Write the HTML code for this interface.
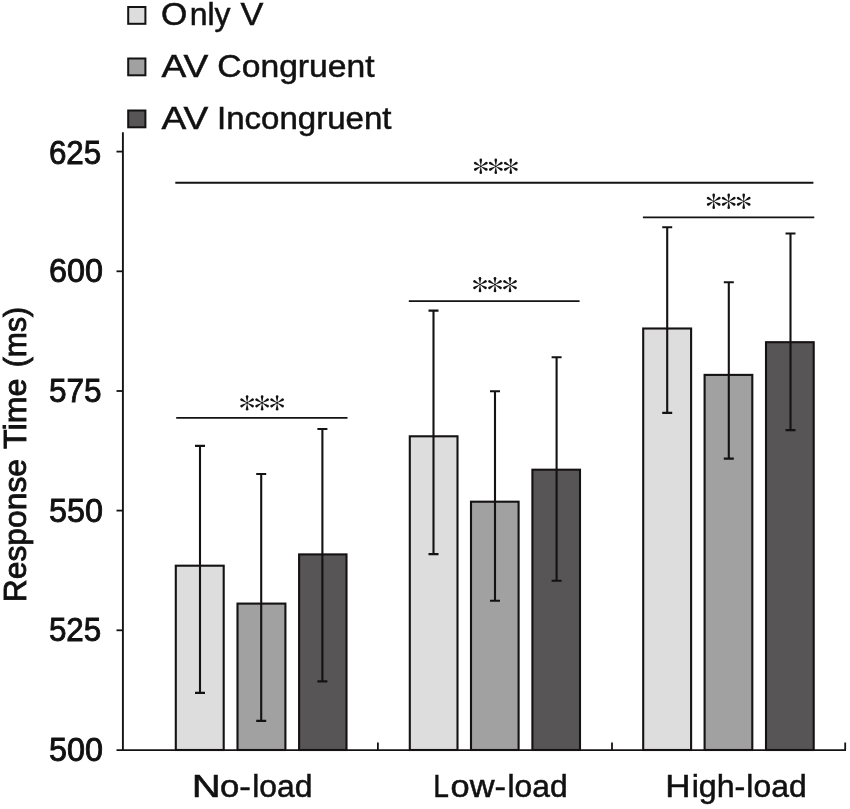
<!DOCTYPE html>
<html><head><meta charset="utf-8"><title>Response Time</title>
<style>html,body{margin:0;padding:0;background:#fff}svg{display:block;will-change:transform}text{font-family:"Liberation Sans",sans-serif;font-size:31px;fill:#111;stroke:#111;stroke-width:0.5px}</style></head>
<body>
<svg width="850" height="809" viewBox="0 0 850 809">
<rect width="850" height="809" fill="#fff"/>
<defs><path id="arm" d="M-0.3 -1.2L-1.3 -6.4A1.3 1.3 0 0 1 1.3 -6.4L0.3 -1.2Z"/><g id="ast" fill="#141213"><circle r="1.15"/><use href="#arm"/><use href="#arm" transform="rotate(60)"/><use href="#arm" transform="rotate(120)"/><use href="#arm" transform="rotate(180)"/><use href="#arm" transform="rotate(240)"/><use href="#arm" transform="rotate(300)"/></g></defs>
<rect x="128.2" y="7.0" width="17.2" height="16.8" fill="#dddddd" stroke="#141213" stroke-width="2"/>
<rect x="128.2" y="58.5" width="17.2" height="16.8" fill="#a1a1a1" stroke="#141213" stroke-width="2"/>
<rect x="128.2" y="110.5" width="17.2" height="16.8" fill="#585556" stroke="#141213" stroke-width="2"/>
<text x="160.96" y="25.30" style="font-size:31px" textLength="26.30" lengthAdjust="spacingAndGlyphs">O</text>
<text x="189.69" y="25.30" style="font-size:31px" textLength="40.85" lengthAdjust="spacingAndGlyphs">nly</text>
<text x="240.55" y="25.30" style="font-size:31px" textLength="22.84" lengthAdjust="spacingAndGlyphs">V</text>
<text x="161.45" y="76.90" style="font-size:31px" textLength="46.81" lengthAdjust="spacingAndGlyphs">AV</text>
<text x="217.36" y="76.90" style="font-size:31px" textLength="157.27" lengthAdjust="spacingAndGlyphs">Congruent</text>
<text x="161.45" y="128.90" style="font-size:31px" textLength="46.81" lengthAdjust="spacingAndGlyphs">AV</text>
<text x="217.02" y="128.90" style="font-size:31px" textLength="174.52" lengthAdjust="spacingAndGlyphs">Incongruent</text>
<rect x="175.8" y="565.7" width="47.9" height="184.3" fill="#dddddd" stroke="#141213" stroke-width="2.1"/>
<rect x="237.5" y="603.6" width="47.9" height="146.4" fill="#a1a1a1" stroke="#141213" stroke-width="2.1"/>
<rect x="299.1" y="554.4" width="47.4" height="195.6" fill="#585556" stroke="#141213" stroke-width="2.1"/>
<rect x="409.8" y="436.3" width="47.7" height="313.7" fill="#dddddd" stroke="#141213" stroke-width="2.1"/>
<rect x="471.0" y="501.7" width="47.6" height="248.3" fill="#a1a1a1" stroke="#141213" stroke-width="2.1"/>
<rect x="532.4" y="469.7" width="47.6" height="280.3" fill="#585556" stroke="#141213" stroke-width="2.1"/>
<rect x="643.2" y="328.5" width="47.9" height="421.5" fill="#dddddd" stroke="#141213" stroke-width="2.1"/>
<rect x="704.6" y="374.9" width="47.7" height="375.1" fill="#a1a1a1" stroke="#141213" stroke-width="2.1"/>
<rect x="766.0" y="342.2" width="47.7" height="407.8" fill="#585556" stroke="#141213" stroke-width="2.1"/>
<path d="M200.0 445.9V692.9M195.0 445.9h10M195.0 692.9h10" stroke="#141213" stroke-width="2.1" fill="none"/>
<path d="M261.2 474.0V720.9M256.2 474.0h10M256.2 720.9h10" stroke="#141213" stroke-width="2.1" fill="none"/>
<path d="M322.4 429.0V681.4M317.4 429.0h10M317.4 681.4h10" stroke="#141213" stroke-width="2.1" fill="none"/>
<path d="M433.5 310.6V554.1M428.5 310.6h10M428.5 554.1h10" stroke="#141213" stroke-width="2.1" fill="none"/>
<path d="M495.0 391.2V600.7M490.0 391.2h10M490.0 600.7h10" stroke="#141213" stroke-width="2.1" fill="none"/>
<path d="M556.6 357.3V580.7M551.6 357.3h10M551.6 580.7h10" stroke="#141213" stroke-width="2.1" fill="none"/>
<path d="M667.2 227.2V412.9M662.2 227.2h10M662.2 412.9h10" stroke="#141213" stroke-width="2.1" fill="none"/>
<path d="M728.8 282.2V458.6M723.8 282.2h10M723.8 458.6h10" stroke="#141213" stroke-width="2.1" fill="none"/>
<path d="M790.5 233.5V430.1M785.5 233.5h10M785.5 430.1h10" stroke="#141213" stroke-width="2.1" fill="none"/>
<path d="M122.9 132.3V750.9499999999999" stroke="#141213" stroke-width="1.9" fill="none"/>
<path d="M116.5 750.05H846" stroke="#141213" stroke-width="1.8" fill="none"/>
<path d="M116.5 151.6H122.9" stroke="#141213" stroke-width="1.8"/>
<text x="48.93" y="164.40" style="font-size:34px;stroke-width:0.9px" textLength="52.36" lengthAdjust="spacingAndGlyphs">625</text>
<path d="M116.5 271.3H122.9" stroke="#141213" stroke-width="1.8"/>
<text x="48.90" y="282.20" style="font-size:34px;stroke-width:0.9px" textLength="54.02" lengthAdjust="spacingAndGlyphs">600</text>
<path d="M116.5 391.0H122.9" stroke="#141213" stroke-width="1.8"/>
<text x="48.92" y="402.20" style="font-size:34px;stroke-width:0.9px" textLength="52.67" lengthAdjust="spacingAndGlyphs">575</text>
<path d="M116.5 510.6H122.9" stroke="#141213" stroke-width="1.8"/>
<text x="48.90" y="521.60" style="font-size:34px;stroke-width:0.9px" textLength="54.02" lengthAdjust="spacingAndGlyphs">550</text>
<path d="M116.5 630.3H122.9" stroke="#141213" stroke-width="1.8"/>
<text x="48.93" y="641.40" style="font-size:34px;stroke-width:0.9px" textLength="52.36" lengthAdjust="spacingAndGlyphs">525</text>
<text x="48.90" y="761.00" style="font-size:34px;stroke-width:0.9px" textLength="54.02" lengthAdjust="spacingAndGlyphs">500</text>
<path d="M377.9 742.5V750.05" stroke="#141213" stroke-width="1.8"/>
<path d="M612 742.5V750.05" stroke="#141213" stroke-width="1.8"/>
<path d="M845.2 742.5V750.05" stroke="#141213" stroke-width="1.8"/>
<text x="191.76" y="796.70" style="font-size:31px" textLength="28.98" lengthAdjust="spacingAndGlyphs">N</text>
<text x="220.03" y="796.70" style="font-size:31px" textLength="30.90" lengthAdjust="spacingAndGlyphs">o-</text>
<text x="252.29" y="796.70" style="font-size:31px" textLength="60.23" lengthAdjust="spacingAndGlyphs">load</text>
<text x="433.14" y="796.70" style="font-size:31px" textLength="15.63" lengthAdjust="spacingAndGlyphs">L</text>
<text x="450.64" y="796.70" style="font-size:31px" textLength="55.38" lengthAdjust="spacingAndGlyphs">ow-</text>
<text x="507.50" y="796.70" style="font-size:31px" textLength="60.12" lengthAdjust="spacingAndGlyphs">load</text>
<text x="665.39" y="796.70" style="font-size:31px" textLength="25.25" lengthAdjust="spacingAndGlyphs">H</text>
<text x="691.67" y="796.70" style="font-size:31px" textLength="53.65" lengthAdjust="spacingAndGlyphs">igh-</text>
<text x="746.39" y="796.70" style="font-size:31px" textLength="60.23" lengthAdjust="spacingAndGlyphs">load</text>
<g transform="translate(26.3 0) rotate(-90)">
<text x="-602.24" y="0" style="font-size:32px;stroke-width:0.9px" textLength="143.28" lengthAdjust="spacingAndGlyphs">Response</text>
<text x="-448.95" y="0" style="font-size:32px;stroke-width:0.9px" textLength="70.20" lengthAdjust="spacingAndGlyphs">Time</text>
<text x="-367.19" y="0" style="font-size:32px;stroke-width:0.9px" textLength="60.30" lengthAdjust="spacingAndGlyphs">(ms)</text>
</g>
<path d="M175.3 182.75H813.4" stroke="#141213" stroke-width="1.9"/>
<use href="#ast" x="480.8" y="166.3"/>
<use href="#ast" x="495.8" y="166.3"/>
<use href="#ast" x="510.8" y="166.3"/>
<path d="M176.2 417.85H347.5" stroke="#141213" stroke-width="1.9"/>
<use href="#ast" x="247.1" y="402.9"/>
<use href="#ast" x="262.1" y="402.9"/>
<use href="#ast" x="277.1" y="402.9"/>
<path d="M408.8 301.1H579.6" stroke="#141213" stroke-width="1.9"/>
<use href="#ast" x="480.0" y="284.6"/>
<use href="#ast" x="495.0" y="284.6"/>
<use href="#ast" x="510.0" y="284.6"/>
<path d="M642.9 217.4H814.3" stroke="#141213" stroke-width="1.9"/>
<use href="#ast" x="713.7" y="201.3"/>
<use href="#ast" x="728.7" y="201.3"/>
<use href="#ast" x="743.7" y="201.3"/>
</svg>
</body></html>
